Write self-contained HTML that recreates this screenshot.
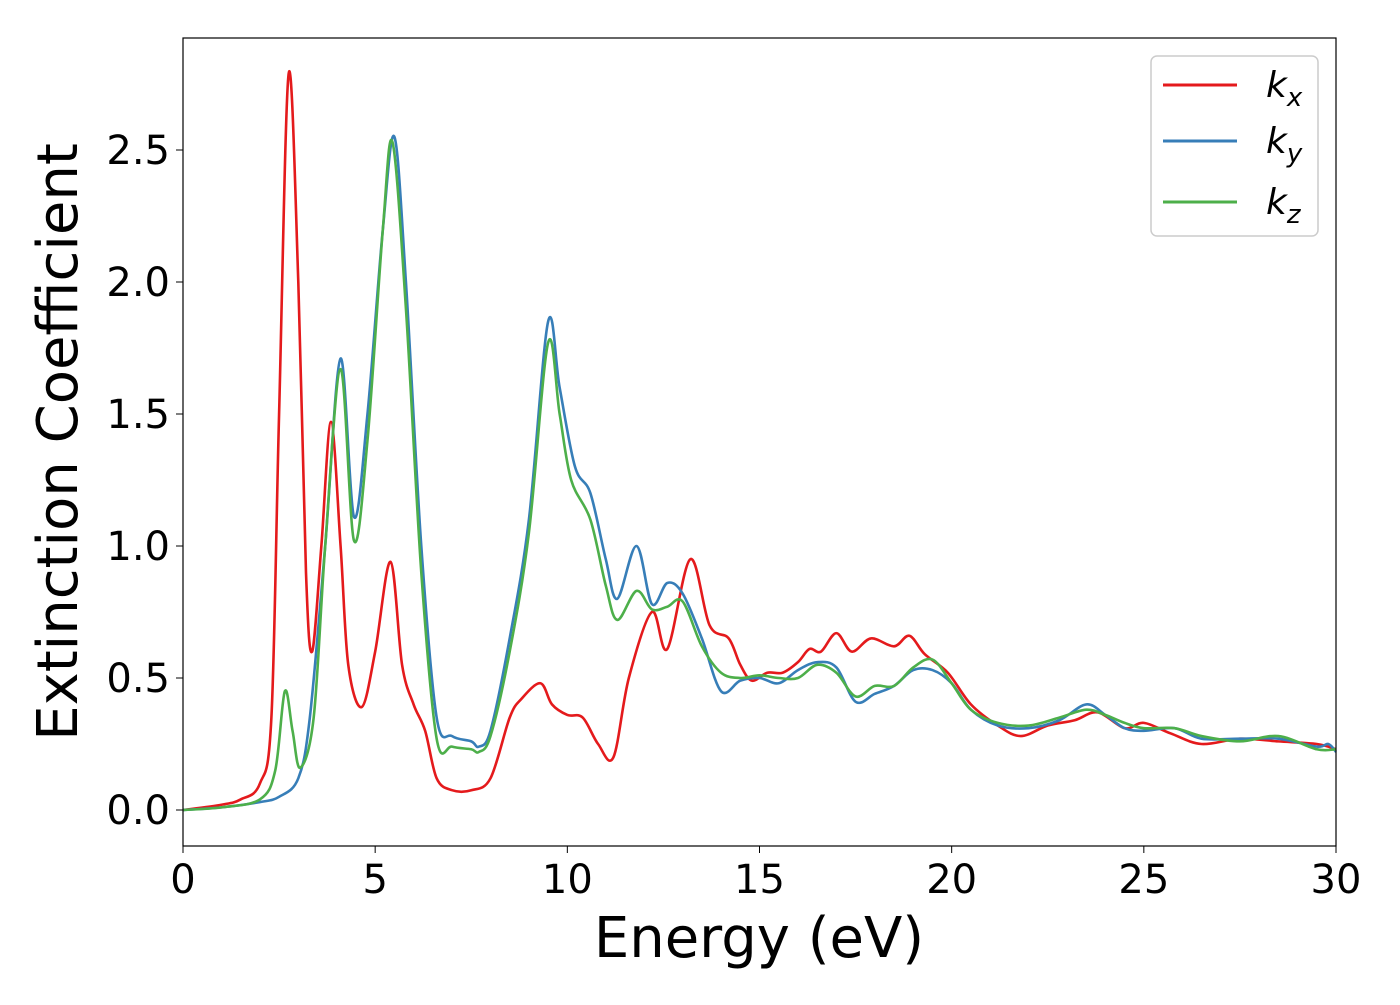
<!DOCTYPE html>
<html><head><meta charset="utf-8"><style>
body{margin:0;background:#fff}
svg text{font-family:"DejaVu Sans","Liberation Sans",sans-serif;fill:#000}
</style></head><body>
<svg id="chart" width="1400" height="1000" xmlns="http://www.w3.org/2000/svg">
<rect x="0" y="0" width="1400" height="1000" fill="#fff"/>
<g id="series"></g>
<rect x="183" y="38" width="1153" height="808" fill="none" stroke="#000" stroke-width="1.2"/>
<g id="xticks"></g><g id="yticks"></g>
<text x="759" y="957" font-size="56" text-anchor="middle">Energy (eV)</text>
<text transform="translate(77,442) rotate(-90)" font-size="56" text-anchor="middle">Extinction Coefficient</text>
<g>
<rect x="1151" y="56" width="167" height="180" rx="6" fill="#fff" stroke="#ccc" stroke-width="1.5"/>
<line x1="1163" y1="85" x2="1237" y2="85" stroke="#e41a1c" stroke-width="3"/>
<line x1="1163" y1="141" x2="1237" y2="141" stroke="#377eb8" stroke-width="3"/>
<line x1="1163" y1="202" x2="1237" y2="202" stroke="#4daf4a" stroke-width="3"/>
<text x="1266" y="97" font-size="36" font-style="italic">k<tspan font-size="26" dy="9">x</tspan></text>
<text x="1266" y="153" font-size="36" font-style="italic">k<tspan font-size="26" dy="9">y</tspan></text>
<text x="1266" y="214" font-size="36" font-style="italic">k<tspan font-size="26" dy="9">z</tspan></text>
</g>
</svg>
<script>
const xTicks=[0,5,10,15,20,25,30];
const yTicks=[0.0,0.5,1.0,1.5,2.0,2.5];
const kxE=[0,1,1.5,2.0,2.3,2.5,2.75,3.0,3.2,3.36,3.6,3.85,4.1,4.3,4.65,5.0,5.4,5.7,6.0,6.3,6.6,7.0,7.5,8.0,8.5,8.8,9.3,9.6,10.0,10.4,10.8,11.2,11.6,12.2,12.6,13.2,13.7,14.2,14.5,14.8,15.2,15.6,16.0,16.3,16.6,17.0,17.4,17.9,18.5,18.9,19.3,19.9,20.5,21.2,21.8,22.5,23.2,23.8,24.5,25.0,25.7,26.5,27.5,28.5,29.5,30];
const kxV=[0,0.02,0.04,0.1,0.35,1.5,2.79,2.0,0.9,0.6,1.0,1.47,1.0,0.55,0.39,0.6,0.94,0.55,0.4,0.3,0.12,0.075,0.075,0.12,0.35,0.42,0.48,0.4,0.36,0.35,0.25,0.2,0.5,0.75,0.61,0.95,0.7,0.65,0.55,0.49,0.52,0.52,0.56,0.61,0.6,0.67,0.6,0.65,0.62,0.66,0.59,0.52,0.4,0.32,0.28,0.32,0.34,0.37,0.31,0.33,0.29,0.25,0.27,0.26,0.25,0.23];
const kyE=[0,1,2,2.5,3.0,3.3,3.7,4.1,4.45,4.8,5.2,5.5,5.8,6.2,6.6,7.0,7.5,7.7,8.0,8.5,9.0,9.5,9.8,10.2,10.6,11.0,11.3,11.8,12.2,12.6,13.0,13.5,14.0,14.5,15.0,15.5,16.0,16.5,17.0,17.5,18.0,18.5,19.0,19.5,20.0,20.5,21.2,22.0,22.8,23.5,24.0,24.5,25.0,25.8,26.5,27.5,28.5,29.5,29.8,30];
const kyV=[0,0.01,0.03,0.05,0.12,0.35,1.0,1.71,1.11,1.5,2.2,2.55,2.0,1.0,0.35,0.28,0.26,0.24,0.3,0.65,1.1,1.85,1.6,1.3,1.2,0.95,0.8,1.0,0.78,0.86,0.82,0.65,0.45,0.49,0.5,0.48,0.53,0.56,0.54,0.41,0.44,0.47,0.53,0.53,0.48,0.38,0.32,0.31,0.34,0.40,0.36,0.31,0.30,0.31,0.27,0.27,0.27,0.24,0.25,0.22];
const kzE=[0,1,2,2.4,2.65,2.85,3.05,3.4,3.7,4.1,4.45,4.8,5.2,5.45,5.8,6.2,6.6,7.0,7.5,7.7,8.0,8.5,9.0,9.5,9.8,10.1,10.6,11.0,11.3,11.8,12.2,12.6,13.0,13.5,14.0,14.5,15.0,15.5,16.0,16.5,17.0,17.5,18.0,18.5,19.0,19.5,20.0,20.5,21.2,22.0,22.8,23.5,24.0,24.5,25.0,25.8,26.5,27.5,28.5,29.5,30];
const kzV=[0,0.01,0.04,0.15,0.45,0.3,0.16,0.35,1.0,1.67,1.02,1.4,2.2,2.53,1.9,0.9,0.27,0.24,0.23,0.22,0.28,0.6,1.05,1.77,1.5,1.25,1.1,0.85,0.72,0.83,0.76,0.77,0.79,0.62,0.52,0.5,0.51,0.5,0.5,0.55,0.52,0.43,0.47,0.47,0.54,0.57,0.48,0.38,0.33,0.32,0.35,0.38,0.36,0.33,0.31,0.31,0.28,0.26,0.28,0.23,0.23];

const NS="http://www.w3.org/2000/svg";
const X0=183,X1=1336,Y0v=810,YPU=264;
function sx(v){return X0+(v/30)*(X1-X0);}
function sy(v){return Y0v-v*YPU;}
function pathFor(E,V){
  const p=E.map((e,i)=>[sx(e),sy(V[i])]);
  let d="M"+p[0][0]+","+p[0][1];
  for(let i=0;i<p.length-1;i++){
    const a=p[Math.max(0,i-1)],b=p[i],c=p[i+1],n=p[Math.min(p.length-1,i+2)];
    const c1=[b[0]+(c[0]-a[0])/6,b[1]+(c[1]-a[1])/6];
    const c2=[c[0]-(n[0]-b[0])/6,c[1]-(n[1]-b[1])/6];
    d+=" C"+c1.join(",")+" "+c2.join(",")+" "+c.join(",");
  }
  return d;
}
const g=document.getElementById("series");
[["series-kx",kxE,kxV,"#e41a1c"],["series-ky",kyE,kyV,"#377eb8"],["series-kz",kzE,kzV,"#4daf4a"]].forEach(s=>{
  const el=document.createElementNS(NS,"path");
  el.setAttribute("d",pathFor(s[1],s[2]));
  el.setAttribute("fill","none");el.setAttribute("stroke",s[3]);el.setAttribute("stroke-width","2.6");
  
  
  g.appendChild(el);
});
const xg=document.getElementById("xticks");
xTicks.forEach(t=>{
  const l=document.createElementNS(NS,"line");
  l.setAttribute("x1",sx(t));l.setAttribute("x2",sx(t));l.setAttribute("y1",846);l.setAttribute("y2",853);l.setAttribute("stroke","#000");
  
  
  xg.appendChild(l);
  const tx=document.createElementNS(NS,"text");
  tx.setAttribute("x",sx(t));tx.setAttribute("y",893);tx.setAttribute("font-size","40");tx.setAttribute("text-anchor","middle");
  tx.textContent=t;
  
  
  xg.appendChild(tx);
});
const yg=document.getElementById("yticks");
yTicks.forEach(t=>{
  const l=document.createElementNS(NS,"line");
  l.setAttribute("x1",176);l.setAttribute("x2",183);l.setAttribute("y1",sy(t));l.setAttribute("y2",sy(t));l.setAttribute("stroke","#000");
  
  
  yg.appendChild(l);
  const tx=document.createElementNS(NS,"text");
  tx.setAttribute("x",170);tx.setAttribute("y",sy(t)+14);tx.setAttribute("font-size","40");tx.setAttribute("text-anchor","end");
  tx.textContent=t.toFixed(1);
  
  
  yg.appendChild(tx);
});
</script>
</body></html>
